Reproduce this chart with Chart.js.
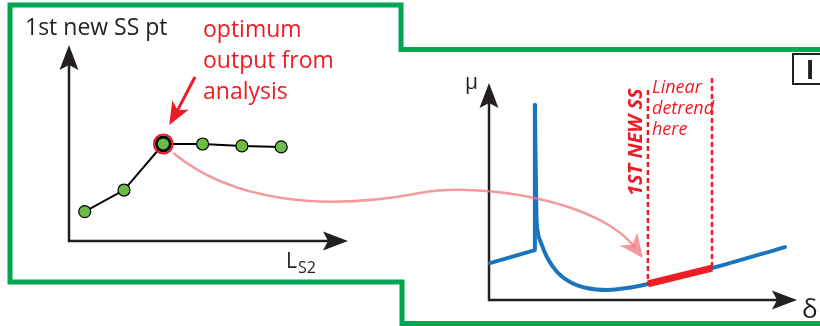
<!DOCTYPE html>
<html>
<head>
<meta charset="utf-8">
<script src="https://cdn.jsdelivr.net/npm/chart.js@4.4.1/dist/chart.umd.min.js"></script>
<style>
  html, body { margin: 0; padding: 0; background: #fff; }
  #wrap { position: relative; width: 820px; height: 326px; overflow: hidden; }
  #wrap canvas { position: absolute; left: 0; top: 0; }
</style>
</head>
<body>
<div id="wrap">
  <canvas id="leftChart" width="820" height="326"></canvas>
  <canvas id="rightChart" width="820" height="326"></canvas>
</div>
<script>
// ---- left panel: 1st new SS point vs L_S2 ----
const lsLevels = [1, 2, 3, 4, 5, 6];
const firstSSPt = [1.5, 2.6, 4.95, 4.95, 4.85, 4.8];
const optimumIndex = 2;

// ---- right panel: mu vs delta ----
// rising branch up to the spike
const deltaRise = [0.03, 1.49, 1.49];
const muRise = [1.70, 2.30, 8.99];
// decay after the spike and the linear tail
const deltaDecay = [1.49, 1.54, 1.59, 1.69, 1.88, 2.21, 2.63, 3.18, 3.83, 4.48, 5.16, 7.24, 9.61];
const muDecay = [8.99, 3.92, 3.09, 2.63, 1.98, 1.29, 0.83, 0.55, 0.46, 0.55, 0.74, 1.47, 2.44];
// window used for the linear detrend (starts at the 1st new SS)
const deltaDetrend = [5.16, 7.24];
const muDetrend = [0.74, 1.47];
const dashTop = [9.68, 10.23];

const INK = '#231f20';
const RED = '#ed1c24';
const GREEN = '#00a651';
const BLUE = '#1b75bc';
const PINK = 'rgba(240,120,125,0.75)';
const FONT = '"Open Sans", "Noto Sans", sans-serif';

const toXY = (xs, ys) => xs.map((x, i) => ({ x: x, y: ys[i] }));

// concave arrow head, tip at (x,y), pointing along angle a
function arrowHead(ctx, x, y, a, len, half, notch, color) {
    const dx = Math.cos(a), dy = Math.sin(a);
    const px = -dy, py = dx;
    ctx.save();
    ctx.fillStyle = color;
    ctx.beginPath();
    ctx.moveTo(x, y);
    ctx.lineTo(x - len * dx + half * px, y - len * dy + half * py);
    ctx.lineTo(x - (len - notch) * dx, y - (len - notch) * dy);
    ctx.lineTo(x - len * dx - half * px, y - len * dy - half * py);
    ctx.closePath();
    ctx.fill();
    ctx.restore();
}

function axisArrows(ctx, area) {
    ctx.save();
    ctx.strokeStyle = INK;
    ctx.lineWidth = 2.5;
    ctx.beginPath();
    ctx.moveTo(area.left, area.top + 15);
    ctx.lineTo(area.left, area.bottom);
    ctx.lineTo(area.right - 15, area.bottom);
    ctx.stroke();
    ctx.restore();
    arrowHead(ctx, area.left, area.top, -Math.PI / 2, 25, 9.5, 5, INK);
    arrowHead(ctx, area.right, area.bottom, 0, 25, 9.5, 5, INK);
}

const hiddenScales = (xmin, xmax, ymin, ymax) => ({
    x: { type: 'linear', display: false, min: xmin, max: xmax },
    y: { type: 'linear', display: false, min: ymin, max: ymax }
});

// ---------------- left chart (also draws the frame) ----------------
const leftPlugin = {
    id: 'leftDeco',
    beforeDraw(chart) {
        const ctx = chart.ctx;
        ctx.save();
        ctx.fillStyle = '#fff';
        ctx.fillRect(0, 0, chart.width, chart.height);
        // green frame
        ctx.strokeStyle = GREEN;
        ctx.lineWidth = 5;
        ctx.lineJoin = 'miter';
        ctx.beginPath();
        ctx.moveTo(825, 49.5);
        ctx.lineTo(401, 49.5);
        ctx.lineTo(401, 5);
        ctx.lineTo(10, 5);
        ctx.lineTo(10, 282);
        ctx.lineTo(402, 282);
        ctx.lineTo(402, 323.5);
        ctx.lineTo(825, 323.5);
        ctx.stroke();
        ctx.restore();
    },
    beforeDatasetsDraw(chart) {
        axisArrows(chart.ctx, chart.chartArea);
    },
    afterDatasetsDraw(chart) {
        const ctx = chart.ctx;
        const pt = chart.getDatasetMeta(0).data[optimumIndex];
        ctx.save();
        // red ring round the optimum
        ctx.strokeStyle = RED;
        ctx.lineWidth = 2;
        ctx.beginPath();
        ctx.arc(pt.x, pt.y, 9.5, 0, Math.PI * 2);
        ctx.stroke();
        // red pointer arrow
        const tipX = pt.x + 6, tipY = pt.y - 19;
        const a = Math.atan2(48, -27);
        ctx.strokeStyle = RED;
        ctx.lineWidth = 3;
        ctx.beginPath();
        ctx.moveTo(195, 77);
        ctx.lineTo(tipX - 15 * Math.cos(a), tipY - 15 * Math.sin(a));
        ctx.stroke();
        arrowHead(ctx, tipX, tipY, a, 23, 9.5, 6, RED);

        // texts
        ctx.fillStyle = INK;
        ctx.font = '23px ' + FONT;
        ctx.textBaseline = 'alphabetic';
        ctx.fillText('1st new SS pt', 25, 35);
        ctx.font = '21px ' + FONT;
        ctx.fillText('L', 286, 268);
        ctx.font = '16px ' + FONT;
        ctx.fillText('S2', 298, 273);

        ctx.fillStyle = RED;
        ctx.font = '23px ' + FONT;
        ctx.fillText('optimum', 203, 37);
        ctx.fillText('output from', 203, 68);
        ctx.fillText('analysis', 203, 99);
        ctx.restore();
    }
};

const leftChart = new Chart(document.getElementById('leftChart'), {
    type: 'line',
    data: {
        datasets: [{
            data: toXY(lsLevels, firstSSPt),
            borderColor: '#000',
            borderWidth: 2,
            tension: 0,
            pointBackgroundColor: '#6cbd45',
            pointBorderColor: '#000',
            pointBorderWidth: lsLevels.map((v, i) => i === optimumIndex ? 3 : 1.2),
            pointRadius: lsLevels.map((v, i) => i === optimumIndex ? 7 : 6),
            clip: false
        }]
    },
    options: {
        responsive: false,
        animation: false,
        events: [],
        layout: { padding: { left: 69, top: 45, right: 472, bottom: 85 } },
        scales: hiddenScales(0.6, 7.7, 0, 10),
        plugins: { legend: { display: false }, tooltip: { enabled: false } }
    },
    plugins: [leftPlugin]
});

// ---------------- right chart ----------------
const rightPlugin = {
    id: 'rightDeco',
    beforeDatasetsDraw(chart) {
        axisArrows(chart.ctx, chart.chartArea);
    },
    afterDraw(chart) {
        const ctx = chart.ctx;
        const xs = chart.scales.x, ys = chart.scales.y;
        ctx.save();
        ctx.fillStyle = INK;
        ctx.font = '21px ' + FONT;
        ctx.fillText('\u03bc', 465, 89);
        ctx.font = '26px ' + FONT;
        ctx.fillText('\u03b4', 802, 318);

        // box label
        ctx.strokeStyle = INK;
        ctx.lineWidth = 2;
        ctx.strokeRect(793, 54, 40, 30);
        ctx.font = 'bold 26px ' + FONT;
        ctx.textAlign = 'center';
        ctx.fillText('I', 810, 79);

        // red annotations
        ctx.fillStyle = RED;
        ctx.textAlign = 'left';
        ctx.font = 'italic 18px ' + FONT;
        ctx.fillText('Linear', 652, 93);
        ctx.fillText('detrend', 652, 114);
        ctx.fillText('here', 652, 135);
        ctx.save();
        ctx.translate(642, 196);
        ctx.rotate(-Math.PI / 2);
        ctx.font = 'italic bold 20px ' + FONT;
        ctx.fillText('1ST NEW SS', 0, 0);
        ctx.restore();

        // pink connector from the optimum point to the 1st new SS
        const opt = leftChart.getDatasetMeta(0).data[optimumIndex];
        const sx = opt.x + 10, sy = opt.y + 9;
        const tx = xs.getPixelForValue(deltaDetrend[0]) - 5;
        const ty = ys.getPixelForValue(muDetrend[0]) - 26;
        const a = Math.atan2(25, 19);
        const bx = tx - 12 * Math.cos(a), by = ty - 12 * Math.sin(a);
        ctx.strokeStyle = PINK;
        ctx.lineWidth = 2.5;
        ctx.beginPath();
        ctx.moveTo(sx, sy);
        ctx.bezierCurveTo(230, 200, 320, 212, 420, 193);
        ctx.bezierCurveTo(480, 182, 600, 200, bx, by);
        ctx.stroke();
        arrowHead(ctx, tx, ty, a, 24, 11, 7, PINK);
        ctx.restore();
    }
};

new Chart(document.getElementById('rightChart'), {
    type: 'line',
    data: {
        datasets: [
            {
                data: toXY(deltaRise, muRise),
                borderColor: BLUE, borderWidth: 4, tension: 0,
                borderCapStyle: 'round', borderJoinStyle: 'round',
                pointRadius: 0, clip: false, order: 3
            },
            {
                data: toXY(deltaDecay, muDecay),
                borderColor: BLUE, borderWidth: 4,
                cubicInterpolationMode: 'monotone',
                borderCapStyle: 'round',
                pointRadius: 0, clip: false, order: 3
            },
            {
                data: toXY(deltaDetrend, muDetrend),
                borderColor: RED, borderWidth: 7, tension: 0,
                borderCapStyle: 'butt',
                pointRadius: 0, clip: false, order: 1
            },
            {
                data: toXY([deltaDetrend[0], deltaDetrend[0]], [dashTop[0], muDetrend[0]]),
                borderColor: RED, borderWidth: 2.5, borderDash: [5, 3],
                pointRadius: 0, clip: false, order: 2
            },
            {
                data: toXY([deltaDetrend[1], deltaDetrend[1]], [dashTop[1], muDetrend[1]]),
                borderColor: RED, borderWidth: 2.5, borderDash: [5, 3],
                pointRadius: 0, clip: false, order: 2
            }
        ]
    },
    options: {
        responsive: false,
        animation: false,
        events: [],
        layout: { padding: { left: 489, top: 83, right: 23, bottom: 26 } },
        scales: hiddenScales(0, 10, 0, 10),
        plugins: { legend: { display: false }, tooltip: { enabled: false } }
    },
    plugins: [rightPlugin]
});
</script>
</body>
</html>
